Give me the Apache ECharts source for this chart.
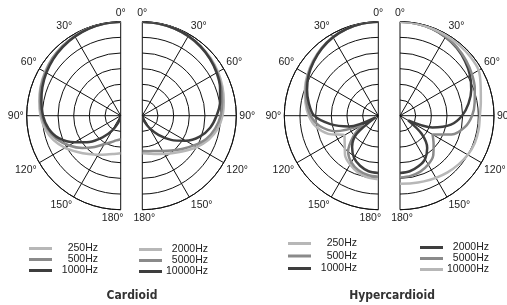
<!DOCTYPE html>
<html>
<head>
<meta charset="utf-8">
<script src="https://cdn.jsdelivr.net/npm/echarts@6/dist/echarts.min.js"></script>
<style>
  html, body { margin: 0; padding: 0; background: #fff; }
  #chart-panel { width: 507px; height: 305px; }
</style>
</head>
<body>
<div id="chart-panel"></div>
<script>
// angles in degrees off axis, response in dB (outer ring 0 dB, centre -30 dB)
var angles = [0, 10, 20, 30, 40, 50, 60, 70, 80, 90, 100, 110, 120, 130, 140, 150, 160, 170, 180];
var dbMin = -30;
var dbMax = 0;
var dbStep = 5;

var cardioid250   = [0, -0.1, -0.3, -0.6, -1.0, -1.5, -2.1, -2.8, -3.6, -4.4, -5.5, -7.2, -9.5, -12, -14, -15.6, -16.8, -17.6, -18];
var cardioid500   = [0, -0.1, -0.3, -0.7, -1.1, -1.6, -2.3, -3.0, -3.9, -4.8, -6.2, -8.2, -11, -14, -17, -19.5, -21, -22, -22.5];
var cardioid1000  = [0, -0.1, -0.4, -0.8, -1.3, -1.9, -2.6, -3.4, -4.3, -5.2, -6.6, -9, -13, -17, -21, -24.5, -27.5, -29.3, -30];
var cardioid2000  = [0, -0.1, -0.3, -0.6, -1.0, -1.5, -2.1, -2.8, -3.6, -4.4, -5.6, -7.5, -10, -12.5, -14.5, -16, -17, -17.7, -18];
var cardioid5000  = [0, -0.1, -0.3, -0.7, -1.2, -1.7, -2.4, -3.2, -4.1, -5.0, -6.4, -8.3, -11, -13.5, -15.5, -17, -18, -18.5, -18.7];
var cardioid10000 = [0, -0.1, -0.3, -0.6, -1.1, -1.8, -2.6, -3.6, -4.8, -6.3, -8, -10.5, -14, -18, -22, -25.5, -28, -29.5, -30];

var hyper250   = [0, -0.1, -0.5, -1.0, -1.8, -2.8, -3.9, -5.1, -6.4, -7.8, -9.8, -13, -17.5, -16, -13.5, -12, -10.8, -10, -9.7];
var hyper500   = [0, -0.1, -0.5, -1.1, -1.9, -3.0, -4.1, -5.4, -6.8, -8.4, -11, -15.5, -24, -19.5, -15, -12.8, -11.5, -10.8, -10.5];
var hyper1000  = [0, -0.1, -0.5, -1.1, -2.0, -3.1, -4.3, -5.8, -7.5, -9.5, -14.5, -20, -29, -21, -17, -14.5, -13, -12, -11.7];
var hyper2000  = [0, -0.1, -0.4, -1.0, -1.8, -2.9, -4.2, -5.8, -7.8, -10.2, -13.5, -19, -27, -21, -16.5, -14, -12.8, -12, -11.7];
var hyper5000  = [0, -0.1, -0.4, -0.9, -1.6, -2.5, -3.5, -4.6, -5.8, -7.0, -9, -12.5, -18, -16, -13.5, -12, -11, -10.5, -10.3];
var hyper10000 = [0, -0.1, -0.3, -0.5, -0.6, -0.7, -1.0, -2.6, -3.8, -4.5, -4.5, -4.6, -5.0, -5.7, -6.4, -7.1, -7.7, -8.1, -8.3];

var titles = ['Cardioid', 'Hypercardioid'];

var light = '#b7b7b7';
var mid = '#8a8a8a';
var dark = '#3e3e3e';

var font = 'Liberation Sans';

function angleAxis(polarIndex, side) {
    var left = side === 'left';
    return {
        polarIndex: polarIndex,
        type: 'value',
        min: 0,
        max: 180,
        interval: 30,
        startAngle: 90,
        endAngle: left ? 270 : -90,
        clockwise: !left,
        axisLine: { lineStyle: { color: '#111', width: 1 } },
        axisTick: { show: false },
        splitLine: { lineStyle: { color: '#111', width: 1 } },
        axisLabel: {
            margin: 3,
            color: '#222',
            fontSize: 10.5,
            fontFamily: font,
            formatter: function (v) {
                if (v === 180) return '{e|' + v + '°}';
                return v + '°';
            },
            rich: {
                e: {
                    fontSize: 10.5, fontFamily: font, color: '#222',
                    padding: left ? [0, 16, 0, 0] : [0, 0, 0, 4]
                }
            }
        }
    };
}

function radiusAxis(polarIndex) {
    return {
        polarIndex: polarIndex,
        type: 'value',
        min: dbMin,
        max: dbMax,
        interval: dbStep,
        axisLine: { show: false },
        axisTick: { show: false },
        axisLabel: { show: false },
        splitLine: { show: true, lineStyle: { color: '#111', width: 1 } }
    };
}

function curve(name, polarIndex, values, color) {
    return {
        type: 'line',
        name: name,
        coordinateSystem: 'polar',
        polarIndex: polarIndex,
        data: values.map(function (v, i) { return [v, angles[i]]; }),
        showSymbol: false,
        smooth: 0.3,
        clip: false,
        silent: true,
        z: 3,
        itemStyle: { color: color },
        lineStyle: { color: color, width: 2.5 }
    };
}

function legend(names, left, top, gap) {
    return {
        orient: 'vertical',
        left: left,
        top: top,
        padding: 0,
        itemGap: gap,
        itemWidth: 23,
        itemHeight: 3,
        icon: 'rect',
        selectedMode: false,
        data: names,
        formatter: function (name) { return '{t|' + name.split(' ')[1] + '}'; },
        textStyle: {
            rich: {
                t: { width: 41, align: 'right', fontSize: 10.5, lineHeight: 12, color: '#222', fontFamily: font }
            }
        }
    };
}

chartOption = {
    backgroundColor: '#fff',
    animation: false,
    textStyle: { fontFamily: font },
    title: [{
        text: titles[0],
        left: 132,
        top: 290,
        textAlign: 'center',
        padding: 0,
        textStyle: { fontFamily: 'DejaVu Sans Condensed', fontWeight: 'bold', fontSize: 12, color: '#333' }
    }, {
        text: titles[1],
        left: 392,
        top: 290,
        textAlign: 'center',
        padding: 0,
        textStyle: { fontFamily: 'DejaVu Sans Condensed', fontWeight: 'bold', fontSize: 12, color: '#333' }
    }],
    polar: [
        { center: [120.7, 115.7], radius: 94 },
        { center: [142.3, 115.7], radius: 94 },
        { center: [378.3, 115.7], radius: 94 },
        { center: [400, 115.7], radius: 94 }
    ],
    angleAxis: [angleAxis(0, 'left'), angleAxis(1, 'right'), angleAxis(2, 'left'), angleAxis(3, 'right')],
    radiusAxis: [radiusAxis(0), radiusAxis(1), radiusAxis(2), radiusAxis(3)],
    legend: [
        legend(['Cardioid 250Hz', 'Cardioid 500Hz', 'Cardioid 1000Hz'], 29, 243, 0),
        legend(['Cardioid 2000Hz', 'Cardioid 5000Hz', 'Cardioid 10000Hz'], 139, 244, 0),
        legend(['Hyper 250Hz', 'Hyper 500Hz', 'Hyper 1000Hz'], 288, 238, 1.5),
        legend(['Hyper 2000Hz', 'Hyper 5000Hz', 'Hyper 10000Hz'], 420, 242, 0)
    ],
    series: [
        curve('Cardioid 250Hz', 0, cardioid250, light),
        curve('Cardioid 500Hz', 0, cardioid500, mid),
        curve('Cardioid 1000Hz', 0, cardioid1000, dark),
        curve('Cardioid 2000Hz', 1, cardioid2000, light),
        curve('Cardioid 5000Hz', 1, cardioid5000, mid),
        curve('Cardioid 10000Hz', 1, cardioid10000, dark),
        curve('Hyper 250Hz', 2, hyper250, light),
        curve('Hyper 500Hz', 2, hyper500, mid),
        curve('Hyper 1000Hz', 2, hyper1000, dark),
        curve('Hyper 2000Hz', 3, hyper2000, dark),
        curve('Hyper 5000Hz', 3, hyper5000, mid),
        curve('Hyper 10000Hz', 3, hyper10000, light)
    ]
};

var chartPanel = document.getElementById('chart-panel');
var myChart = echarts.init(chartPanel);
myChart.setOption(chartOption);
</script>
</body>
</html>
